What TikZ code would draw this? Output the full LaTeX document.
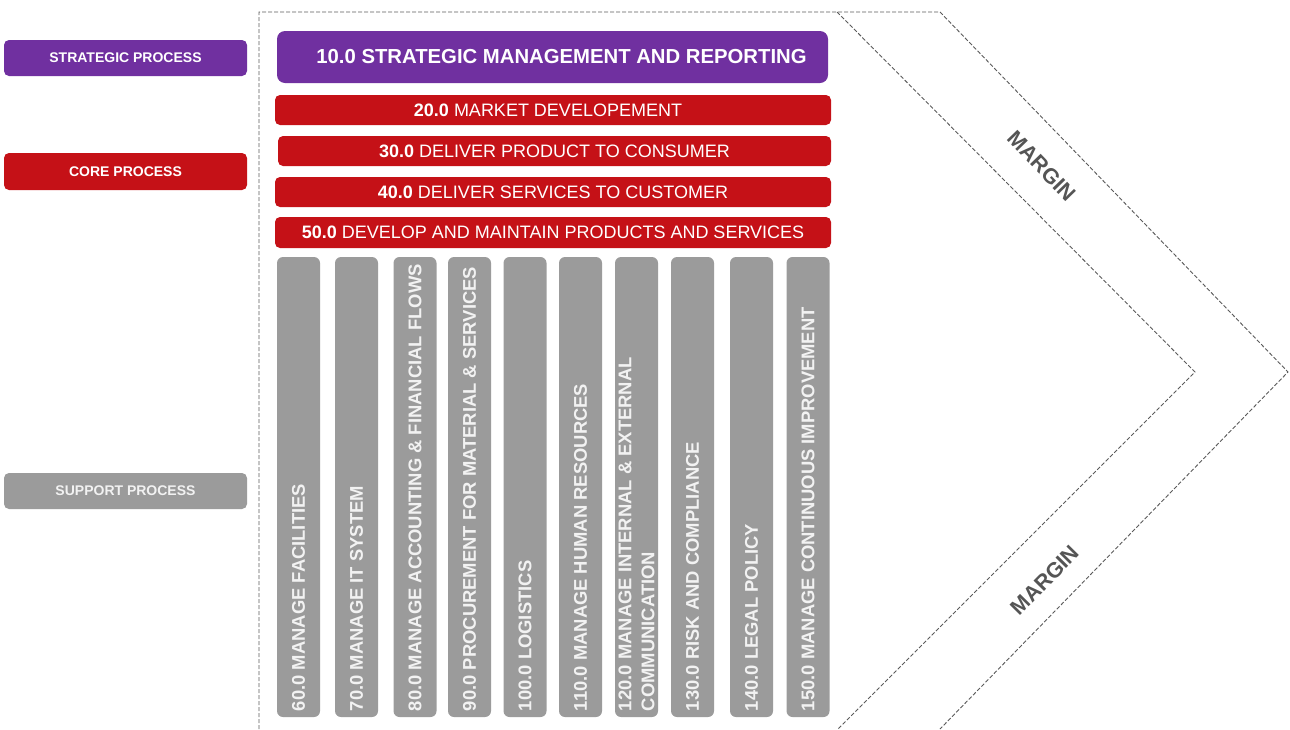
\documentclass[tikz,border=0pt]{standalone}
\usepackage{fontspec}
\setmainfont{Liberation Sans}
\usetikzlibrary{calc}
\definecolor{cpurple}{RGB}{112,48,160}
\definecolor{cred}{RGB}{197,17,23}
\definecolor{cgray}{RGB}{155,155,155}
\definecolor{cline}{RGB}{90,90,90}
\definecolor{cmargin}{RGB}{85,85,85}
\definecolor{ctext}{RGB}{242,242,242}
\begin{document}
\begin{tikzpicture}[x=1pt,y=-1pt,
  legendbox/.style={rounded corners=5pt, inner sep=0pt, minimum width=243pt, minimum height=36pt,
    font=\fontsize{14}{16}\selectfont\bfseries},
  stratbox/.style={fill=cpurple, text=white},
  corebox/.style={fill=cred, text=white, rounded corners=5pt, inner sep=0pt, minimum height=30pt,
    font=\fontsize{18}{20}\selectfont},
  suppbox/.style={fill=cgray, text=ctext},
  colbox/.style={fill=cgray, rounded corners=6pt, inner sep=0pt, minimum width=43pt, minimum height=460pt},
  coltext/.style={rotate=90, anchor=west, inner sep=0pt, text=ctext, align=left,
    font=\fontsize{18.4}{23}\selectfont\bfseries},
  outline/.style={draw=cline, line width=0.9pt, dash pattern=on 4pt off 2pt},
  margintext/.style={text=cmargin, inner sep=0pt, font=\fontsize{21.5}{23}\selectfont\bfseries}
]
\useasboundingbox (0,0) rectangle (1290,729);

% dashed outline
\draw[outline] (259,729) -- (259,12) -- (940,12) -- (1288,372) -- (940,729);
\draw[outline] (837,12) -- (1195,372) -- (838,729);

% legend
\node[legendbox, stratbox] (lstrat) at (125.5,58) {STRATEGIC PROCESS};
\node[legendbox, fill=cred, text=white, minimum height=37pt] (lcore) at (125.5,171.5) {CORE PROCESS};
\node[legendbox, suppbox] (lsupp) at (125.5,491) {SUPPORT PROCESS};

% strategic
\node[fill=cpurple, text=white, rounded corners=8pt, inner sep=0pt, minimum width=551pt, minimum height=52pt,
  font=\fontsize{20.3}{22}\selectfont\bfseries] (p10) at (552.5,57) {\hspace*{18pt}10.0 STRATEGIC MANAGEMENT AND REPORTING};

% core
\node[corebox, minimum width=556pt] (p20) at (553,110) {\textbf{20.0} MARKET DEVELOPEMENT\hspace*{10pt}};
\node[corebox, minimum width=553pt] (p30) at (554.5,151) {\textbf{30.0} DELIVER PRODUCT TO CONSUMER};
\node[corebox, minimum width=556pt] (p40) at (553,192) {\textbf{40.0} DELIVER SERVICES TO CUSTOMER};
\node[corebox, minimum width=556pt, minimum height=31pt] (p50) at (553,232.5) {\textbf{50.0} DEVELOP AND MAINTAIN PRODUCTS AND SERVICES};

% support columns
\node[colbox] (c1) at (298.5,487) {};
\node[colbox] (c2) at (356.5,487) {};
\node[colbox] (c3) at (415,487) {};
\node[colbox] (c4) at (469.5,487) {};
\node[colbox] (c5) at (525,487) {};
\node[colbox] (c6) at (580.5,487) {};
\node[colbox] (c7) at (636.5,487) {};
\node[colbox] (c8) at (692.5,487) {};
\node[colbox] (c9) at (751.5,487) {};
\node[colbox] (c10) at (808,487) {};

\node[coltext] (t1) at ($(c1.south)+(0,-6)$) {60.0 MANAGE FACILITIES};
\node[coltext] (t2) at ($(c2.south)+(0,-6)$) {70.0 MANAGE IT SYSTEM};
\node[coltext] (t3) at ($(c3.south)+(0,-6)$) {80.0 MANAGE ACCOUNTING \& FINANCIAL FLOWS};
\node[coltext] (t4) at ($(c4.south)+(0,-6)$) {90.0 PROCUREMENT FOR MATERIAL \& SERVICES};
\node[coltext] (t5) at ($(c5.south)+(0,-6)$) {100.0 LOGISTICS};
\node[coltext] (t6) at ($(c6.south)+(0,-6)$) {110.0 MANAGE HUMAN RESOURCES};
\node[coltext] (t7) at ($(c7.south)+(0,-6)$) {120.0 MANAGE INTERNAL \& EXTERNAL\\COMMUNICATION};
\node[coltext] (t8) at ($(c8.south)+(0,-6)$) {130.0 RISK AND COMPLIANCE};
\node[coltext] (t9) at ($(c9.south)+(0,-6)$) {140.0 LEGAL POLICY};
\node[coltext] (t10) at ($(c10.south)+(0,-6)$) {150.0 MANAGE CONTINUOUS IMPROVEMENT};

% margin labels
\node[margintext, rotate=-46] (m1) at (1041.5,166) {MARGIN};
\node[margintext, rotate=45.5] (m2) at (1045,580) {MARGIN};
\end{tikzpicture}
\end{document}
